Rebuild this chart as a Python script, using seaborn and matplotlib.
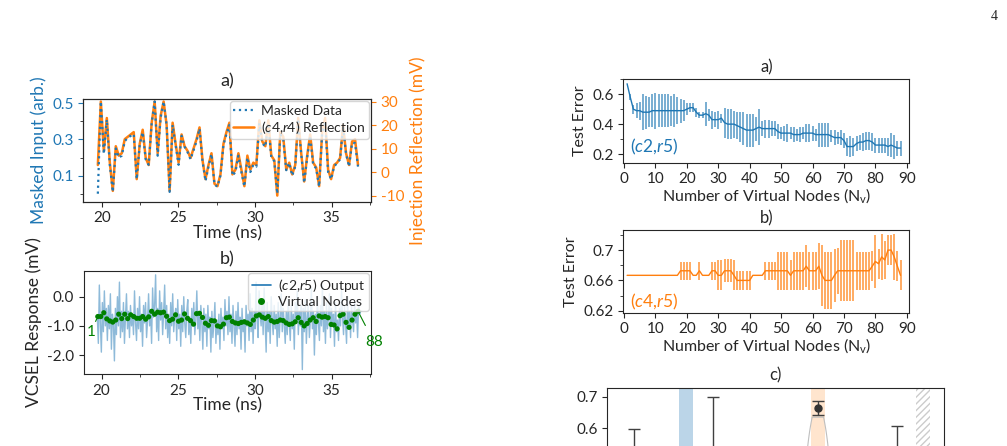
import numpy as np
import pandas as pd
import seaborn as sns
import matplotlib.pyplot as plt
from matplotlib.lines import Line2D
from matplotlib.ticker import MultipleLocator, FormatStrFormatter, FuncFormatter

# ---- data ----
# left a) masked input (arb.) and reflection (mV), one value per virtual node
masked_input = [
    0.00, 0.51, 0.22, 0.41, 0.16, 0.01, 0.25, 0.20, 0.21, 0.29, 0.31, 0.32,
    0.33, 0.08, 0.27, 0.34, 0.19, 0.16, 0.39, 0.51, 0.21, 0.42, 0.51, 0.38,
    0.01, 0.38, 0.27, 0.16, 0.32, 0.26, 0.23, 0.19, 0.24, 0.29, 0.36, 0.18,
    0.07, 0.15, 0.22, 0.05, 0.04, 0.10, 0.27, 0.33, 0.38, 0.10, 0.12, 0.21,
    0.12, 0.04, 0.20, 0.12, 0.16, 0.15, 0.39, 0.28, 0.26, 0.39, 0.20, 0.18,
    0.00, 0.33, 0.30, 0.13, 0.17, 0.10, 0.15, 0.40, 0.22, 0.06, 0.20, 0.32,
    0.16, 0.14, 0.04, 0.33, 0.40, 0.12, 0.08, 0.15, 0.17, 0.19, 0.37, 0.22,
    0.15, 0.28, 0.28, 0.15]
reflection_mv = [
    3, 30, 9, 23, 4, -8, 11, 7, 8, 14, 15, 16,
    17, -3, 12, 18, 6, 3, 21, 30, 8, 24, 30, 20,
    -8, 21, 12, 4, 16, 11, 9, 6, 10, 14, 19, 5,
    -3, 3, 8, -5, -6, -1, 12, 17, 21, -1, 1, 8,
    1, -6, 7, 1, 4, 3, 22, 13, 11, 22, 7, 5,
    -10, 17, 15, 1, 4, -1, 3, 23, 8, -4, 7, 16,
    4, 2, -6, 17, 23, 1, -3, 3, 4, 6, 20, 8,
    3, 13, 14, 3]

# left b) VCSEL output trace (mV) and virtual node samples
vcsel_trace = [
    -0.7, -1.6, 0.4, -0.9, -1.9, -0.2, -1.2, 0.2, -1.0, -0.4, -1.5, -0.3,
    -1.1, 0.1, -1.8, -0.6, -0.9, -2.2, -0.4, -1.3, 0.0, -1.0, 0.5, -1.4,
    -0.5, -1.2, -0.2, -1.6, -0.7, 0.1, -1.1, -0.5, -1.4, -0.3, -1.0, -0.6,
    -1.3, 0.2, -0.9, -1.5, -0.4, -1.1, 0.0, -1.2, -0.6, -1.7, -0.3, -0.9,
    -0.2, -1.4, -0.8, 0.1, -1.0, -0.5, -1.6, 0.3, -0.7, -0.3, 0.75, -1.2,
    -0.4, -1.5, 0.2, -0.8, -0.2, -1.3, -0.5, 0.4, -1.1, -0.3, -1.4, -0.6,
    -1.6, -0.2, -1.0, 0.1, -1.2, -0.7, -0.4, -1.5, -0.1, -1.1, -0.6, -1.7,
    -0.3, -1.2, 0.0, -0.9, -1.4, -0.5, -0.1, -1.3, -0.7, -1.6, -0.4, -1.0,
    -0.2, -1.3, -0.8, 0.2, -1.1, -0.5, -1.5, -0.3, -0.9, -1.8, -0.4, -1.2,
    -0.6, -1.7, -0.3, -1.1, -0.7, -1.9, -0.5, -1.4, -0.9, -0.2, -1.6, -0.8,
    -1.3, -0.6, -1.8, -0.4, -1.1, -0.7, -1.5, -0.1, -1.0, -0.5, -1.3, 0.0,
    -1.2, -0.6, -1.6, -0.3, -1.0, -1.7, -0.5, -1.3, -0.2, -1.1, -0.7, -1.8,
    -0.4, -1.2, -0.8, -1.9, -0.3, -1.0, -0.6, -1.5, 0.1, -1.2, -0.4, -1.6,
    -0.5, -1.1, 0.5, -0.8, -1.4, 0.2, -0.6, -1.0, -0.1, -1.3, 0.3, -0.9,
    -1.9, -0.2, -1.2, -0.5, -1.6, 0.0, -0.8, -1.3, -0.3, -1.1, -0.6, -1.7,
    -0.2, -1.4, -0.7, 0.1, -1.2, -0.4, -1.0, -1.6, -0.5, -1.3, -0.1, -0.9,
    -1.5, -0.3, -1.1, -0.6, -1.8, -0.2, -0.9, 0.2, -1.3, -0.5, -1.0, -0.3,
    -2.5, -0.4, -1.2, -0.1, -1.6, -0.7, -0.3, -1.4, -0.8, 0.3, -1.1, -0.5,
    -2.0, -0.6, -1.3, 0.0, -0.9, -1.5, -0.3, -1.0, 0.4, -1.2, -0.5, -1.6,
    -0.2, -1.1, -0.7, 0.1, -1.4, -0.4, -1.0, -0.6, -1.7, -0.2, -1.2, -0.8,
    -1.5, -0.4, -1.0, 0.2, -0.7, -1.3, -0.3, -0.9, -1.6, 0.0, -1.1, -0.5,
    -1.4, -0.3, -0.8, -1.2, -0.2, -0.9, -0.5, -1.4, -0.3, -0.6, -0.5, -0.5]
virtual_nodes_mv = [
    -0.68, -0.68, -0.55, -0.76, -0.83, -0.87, -0.80, -0.60, -0.75, -0.60, -0.75, -0.62,
    -0.68, -0.74, -0.74, -0.68, -0.77, -0.69, -0.50, -0.60, -0.53, -0.55, -0.53, -0.67,
    -0.82, -0.77, -0.62, -0.84, -0.80, -0.59, -0.74, -0.82, -0.94, -0.58, -0.57, -0.71,
    -0.91, -0.98, -0.82, -0.83, -1.00, -1.03, -0.94, -0.72, -0.70, -0.85, -0.90, -0.92,
    -0.88, -0.86, -0.90, -0.95, -0.80, -0.66, -0.62, -0.70, -0.74, -0.68, -0.82, -0.87,
    -0.85, -0.80, -0.82, -0.90, -0.95, -0.93, -0.86, -0.72, -0.88, -1.00, -0.92, -0.80,
    -0.72, -0.85, -0.66, -0.70, -0.68, -0.72, -0.95, -0.97, -1.10, -0.65, -0.60, -0.88,
    -1.05, -0.80, -0.60, -0.50]

# right a) test error vs number of virtual nodes, (c2,r5)
err_c2r5 = [
    0.67, 0.58, 0.50, 0.49, 0.49, 0.48, 0.48, 0.48, 0.49, 0.49, 0.49, 0.49,
    0.49, 0.49, 0.49, 0.49, 0.49, 0.49, 0.49, 0.50, 0.51, 0.51, 0.48, 0.46,
    0.46, 0.47, 0.46, 0.43, 0.43, 0.43, 0.44, 0.41, 0.40, 0.40, 0.40, 0.39,
    0.38, 0.37, 0.36, 0.36, 0.36, 0.37, 0.38, 0.37, 0.37, 0.37, 0.37, 0.37,
    0.35, 0.34, 0.34, 0.34, 0.34, 0.33, 0.33, 0.33, 0.34, 0.34, 0.34, 0.34,
    0.33, 0.33, 0.33, 0.33, 0.33, 0.32, 0.31, 0.31, 0.31, 0.29, 0.25, 0.25,
    0.25, 0.27, 0.28, 0.28, 0.29, 0.29, 0.28, 0.26, 0.26, 0.26, 0.26, 0.25,
    0.26, 0.25, 0.24, 0.24]
std_c2r5 = [
    0.00, 0.02, 0.03, 0.05, 0.06, 0.12, 0.11, 0.10, 0.11, 0.12, 0.11, 0.11,
    0.11, 0.11, 0.10, 0.11, 0.09, 0.08, 0.07, 0.04, 0.03, 0.03, 0.03, 0.02,
    0.02, 0.08, 0.04, 0.06, 0.05, 0.06, 0.03, 0.10, 0.10, 0.10, 0.09, 0.09,
    0.10, 0.11, 0.11, 0.11, 0.11, 0.08, 0.12, 0.05, 0.06, 0.06, 0.05, 0.05,
    0.05, 0.04, 0.05, 0.06, 0.04, 0.05, 0.04, 0.05, 0.04, 0.06, 0.06, 0.05,
    0.04, 0.08, 0.08, 0.08, 0.08, 0.04, 0.05, 0.04, 0.05, 0.05, 0.06, 0.07,
    0.06, 0.05, 0.05, 0.06, 0.06, 0.06, 0.06, 0.05, 0.05, 0.05, 0.05, 0.06,
    0.08, 0.08, 0.05, 0.05]

# right b) test error vs number of virtual nodes, (c4,r5)
err_c4r5 = [
    0.6667, 0.6667, 0.6667, 0.6667, 0.6667, 0.6667, 0.6667, 0.6667, 0.6667, 0.6667, 0.6667, 0.6667,
    0.6667, 0.6667, 0.6667, 0.6667, 0.6667, 0.6727, 0.6727, 0.6727, 0.6727, 0.6667, 0.6667, 0.6727,
    0.6667, 0.6667, 0.6667, 0.6727, 0.6727, 0.6667, 0.6667, 0.6727, 0.6727, 0.6727, 0.6667, 0.6600,
    0.6600, 0.6600, 0.6600, 0.6600, 0.6667, 0.6667, 0.6667, 0.6667, 0.6727, 0.6727, 0.6727, 0.6727,
    0.6727, 0.6727, 0.6727, 0.6727, 0.6667, 0.6727, 0.6727, 0.6727, 0.6727, 0.6787, 0.6727, 0.6727,
    0.6727, 0.6787, 0.6667, 0.6600, 0.6600, 0.6600, 0.6667, 0.6727, 0.6727, 0.6727, 0.6727, 0.6727,
    0.6727, 0.6727, 0.6727, 0.6727, 0.6727, 0.6727, 0.6787, 0.6850, 0.6820, 0.6910, 0.6870, 0.7000,
    0.7000, 0.6910, 0.6787, 0.6667]
std_c4r5 = [
    0.000, 0.000, 0.000, 0.000, 0.000, 0.000, 0.000, 0.000, 0.000, 0.000, 0.000, 0.000,
    0.000, 0.000, 0.000, 0.000, 0.000, 0.012, 0.012, 0.012, 0.012, 0.000, 0.000, 0.012,
    0.000, 0.000, 0.000, 0.012, 0.012, 0.020, 0.020, 0.015, 0.015, 0.015, 0.020, 0.013,
    0.013, 0.013, 0.013, 0.013, 0.000, 0.000, 0.000, 0.000, 0.012, 0.012, 0.012, 0.012,
    0.025, 0.025, 0.025, 0.025, 0.020, 0.025, 0.025, 0.025, 0.025, 0.028, 0.025, 0.025,
    0.025, 0.030, 0.040, 0.038, 0.038, 0.038, 0.035, 0.030, 0.040, 0.040, 0.040, 0.040,
    0.040, 0.025, 0.025, 0.025, 0.025, 0.025, 0.020, 0.035, 0.020, 0.030, 0.025, 0.020,
    0.020, 0.030, 0.020, 0.020]

# right c) visible part only
c_whisker_pos = [0, 3, 10]
c_whisker_mid = [0.45, 0.52, 0.46]
c_whisker_half = [0.147, 0.18, 0.147]
c_point_pos = [7]
c_point_val = [0.665]
c_point_err = [0.022]
c_violin_sample = [0.30, 0.34, 0.37, 0.40, 0.42, 0.44, 0.46, 0.48, 0.50, 0.52, 0.55, 0.58, 0.61, 0.635]
c_blue_col, c_orange_col, c_hatch_col = 2, 7, 11

node_t = 19.75 + 0.195 * np.arange(len(masked_input))
trace_t = np.linspace(19.72, 36.95, len(vcsel_trace))
nv = np.arange(1, len(err_c2r5) + 1)

# ---- style ----
sns.set_style("ticks")
plt.rcParams["font.family"] = ["Lato", "DejaVu Sans"]
plt.rcParams["mathtext.fontset"] = "custom"
plt.rcParams["mathtext.rm"] = "Lato"
plt.rcParams["mathtext.it"] = "Lato:italic"
plt.rcParams["axes.unicode_minus"] = False
plt.rcParams["axes.edgecolor"] = "0.15"

fig = plt.figure(figsize=(10.07, 4.46), dpi=100)

TICK = 11
LAB = 12.5
RLAB = 11.5

# left a)
ax1 = fig.add_axes([0.0827, 0.5478, 0.2857, 0.2303])
ax1r = ax1.twinx()
sns.lineplot(x=node_t, y=reflection_mv, ax=ax1r, color="C1", lw=1.8)
sns.lineplot(x=node_t, y=masked_input, ax=ax1, color="C0", lw=1.6)
ax1.lines[0].set_linestyle(":")
ax1.set_zorder(ax1r.get_zorder() + 1)
ax1.patch.set_visible(False)
ax1.set_xlim(18.8, 37.56)
ax1.set_ylim(-0.044, 0.524)
ax1r.set_ylim(-12.6, 31.1)
ax1.set_yticks([0.1, 0.3, 0.5])
ax1.yaxis.set_minor_locator(MultipleLocator(0.1))
ax1.xaxis.set_minor_locator(MultipleLocator(2.5))
ax1r.set_yticks([-10, 0, 10, 20, 30])
ax1.tick_params(axis="y", colors="C0", labelsize=TICK)
ax1.tick_params(axis="x", labelsize=TICK)
ax1r.tick_params(axis="y", colors="C1", labelsize=TICK)
for sp in ax1r.spines.values():
    sp.set_color("0.15")
ax1.set_ylabel("Masked Input (arb.)", color="C0", fontsize=LAB)
ax1r.set_ylabel("Injection Reflection (mV)", color="C1", fontsize=LAB)
ax1.set_xlabel("Time (ns)", fontsize=LAB, labelpad=0)
ax1.set_title("a)", fontsize=13, pad=9)
ax1.legend([ax1.lines[0], ax1r.lines[0]],
           ["Masked Data", r"$(\mathit{c4{,}r4})$ Reflection"],
           loc="upper right", fontsize=10, handlelength=1.5,
           borderpad=0.25, labelspacing=0.15, handletextpad=0.5, borderaxespad=0.15)

# left b)
ax2 = fig.add_axes([0.0834, 0.1614, 0.285, 0.2309])
sns.lineplot(x=trace_t, y=vcsel_trace, ax=ax2, color="C0", alpha=0.5, lw=1)
sns.scatterplot(x=node_t, y=virtual_nodes_mv, ax=ax2, color="green", s=14,
                edgecolor="none", zorder=3)
ax2.set_xlim(18.85, 37.56)
ax2.set_ylim(-2.65, 0.88)
ax2.set_yticks([0.0, -1.0, -2.0])
ax2.yaxis.set_major_formatter(FormatStrFormatter("%.1f"))
ax2.xaxis.set_minor_locator(MultipleLocator(2.5))
ax2.tick_params(labelsize=TICK)
ax2.set_ylabel("VCSEL Response (mV)", fontsize=LAB)
ax2.set_xlabel("Time (ns)", fontsize=LAB, labelpad=0)
ax2.set_title("b)", fontsize=13, pad=5)
ax2.annotate("1", xy=(node_t[0], virtual_nodes_mv[0]), xytext=(19.3, -1.2),
             color="green", fontsize=11, ha="center", va="center",
             arrowprops=dict(arrowstyle="-", color="green", lw=0.8, shrinkA=4, shrinkB=2))
ax2.annotate("88", xy=(node_t[-1], virtual_nodes_mv[-1]), xytext=(37.75, -1.55),
             color="green", fontsize=11, ha="center", va="center",
             arrowprops=dict(arrowstyle="-", color="green", lw=0.8, shrinkA=5, shrinkB=2))
ax2.legend([Line2D([], [], color="C0", lw=1.2),
            Line2D([], [], color="green", marker="o", ls="", ms=4)],
           [r"$(\mathit{c2{,}r5})$ Output", "Virtual Nodes"],
           loc="upper right", fontsize=10, handlelength=1.4,
           borderpad=0.25, labelspacing=0.15, handletextpad=0.5, borderaxespad=0.15)

# right a)
ax3 = fig.add_axes([0.619, 0.6352, 0.284, 0.1877])
ax3.errorbar(nv, err_c2r5, yerr=std_c2r5, fmt="none", ecolor="C0", elinewidth=1.3, alpha=0.65)
sns.lineplot(x=nv, y=err_c2r5, ax=ax3, color="C0", lw=1)
ax3.set_xlim(-0.2, 90.8)
ax3.set_ylim(0.142, 0.702)
ax3.set_yticks([0.2, 0.4, 0.6])
ax3.yaxis.set_minor_locator(MultipleLocator(0.1))
ax3.set_xticks(range(0, 91, 10))
ax3.tick_params(labelsize=TICK)
ax3.set_ylabel("Test Error", fontsize=RLAB)
ax3.set_xlabel(r"Number of Virtual Nodes (N$_\mathrm{v}$)", fontsize=RLAB, labelpad=0)
ax3.set_title("a)", fontsize=12, pad=5)
ax3.text(2, 0.245, r"$(\mathit{c2{,}r5})$", color="C0", fontsize=12.5, va="center")

# right b)
ax4 = fig.add_axes([0.619, 0.2989, 0.284, 0.1854])
ax4.errorbar(nv, err_c4r5, yerr=std_c4r5, fmt="none", ecolor="C1", elinewidth=1.3, alpha=0.7)
sns.lineplot(x=nv, y=err_c4r5, ax=ax4, color="C1", lw=1)
ax4.set_xlim(-0.2, 90.8)
ax4.set_ylim(0.6174, 0.7265)
ax4.set_yticks([0.62, 0.66, 0.70])
ax4.yaxis.set_minor_locator(MultipleLocator(0.02))
ax4.yaxis.set_major_formatter(FuncFormatter(lambda v, p: f"{v:g}"))
ax4.set_xticks(range(0, 91, 10))
ax4.tick_params(labelsize=TICK)
ax4.set_ylabel("Test Error", fontsize=RLAB)
ax4.set_xlabel(r"Number of Virtual Nodes (N$_\mathrm{v}$)", fontsize=RLAB, labelpad=0)
ax4.set_title("b)", fontsize=12, pad=5)
ax4.text(2, 0.632, r"$(\mathit{c4{,}r5})$", color="C1", fontsize=12.5, va="center")

# right c) (cut by the page bottom)
ax5 = fig.add_axes([0.603, -0.0987, 0.3347, 0.2294])
ax5.axvspan(c_blue_col - 0.26, c_blue_col + 0.26, color="C0", alpha=0.3, lw=0)
ax5.axvspan(c_orange_col - 0.26, c_orange_col + 0.26, color="C1", alpha=0.2, lw=0)
ax5.axvspan(c_hatch_col - 0.26, c_hatch_col + 0.26, facecolor="none",
            edgecolor="0.8", hatch="/////", lw=0)
vp = ax5.violinplot([c_violin_sample], positions=c_point_pos, widths=0.9,
                    showextrema=False)
for body in vp["bodies"]:
    body.set_facecolor("none")
    body.set_edgecolor("0.75")
    body.set_linewidth(0.8)
    body.set_alpha(1)
ax5.errorbar(c_whisker_pos, c_whisker_mid, yerr=c_whisker_half, fmt="none",
             ecolor="0.25", elinewidth=1, capsize=4)
ax5.errorbar(c_point_pos, c_point_val, yerr=c_point_err, fmt="o", color="0.2",
             ms=5, ecolor="0.25", elinewidth=1, capsize=4)
ax5.set_xlim(-1, 11.8)
ax5.set_ylim(0.405, 0.728)
ax5.set_yticks([0.6, 0.7])
ax5.set_xticks(range(12))
ax5.tick_params(labelsize=TICK, labelbottom=False)
ax5.set_title("c)", fontsize=12, pad=5)

fig.text(0.9875, 0.963, "4", fontsize=10, family=["Liberation Serif"], ha="center", va="center")

fig.savefig("out.png", dpi=100)
